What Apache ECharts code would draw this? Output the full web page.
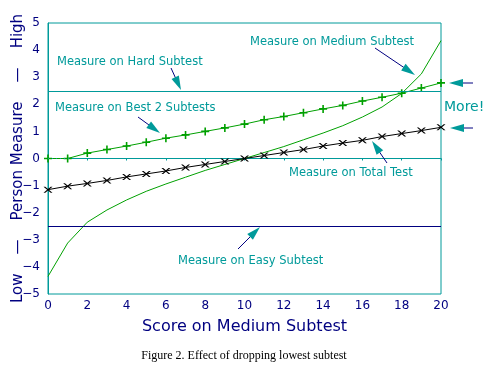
<!DOCTYPE html>
<html>
<head>
<meta charset="utf-8">
<script src="https://cdn.jsdelivr.net/npm/echarts@6/dist/echarts.min.js"></script>
<style>
html,body{margin:0;padding:0;background:#fff;}
#chart{width:488px;height:365px;}
</style>
</head>
<body>
<div id="chart"></div>
<script>
// ---- data ----
const scores = [0,1,2,3,4,5,6,7,8,9,10,11,12,13,14,15,16,17,18,19,20];
const best2Measure = [0,0,0.2,0.33,0.46,0.6,0.75,0.87,1.0,1.13,1.27,1.43,1.55,1.69,1.83,1.96,2.12,2.26,2.41,2.6,2.79];
const totalMeasure = [-1.15,-1.02,-0.92,-0.81,-0.68,-0.57,-0.46,-0.33,-0.22,-0.11,0,0.11,0.22,0.33,0.46,0.57,0.67,0.81,0.92,1.03,1.15];
const mediumMeasure = [-4.35,-3.12,-2.35,-1.9,-1.53,-1.21,-0.94,-0.69,-0.44,-0.22,0,0.22,0.44,0.69,0.94,1.21,1.53,1.9,2.4,3.12,4.35];
const hardMeasure = 2.5;
const easyMeasure = -2.5;
const zeroLine = 0;
const xTicks = [0,2,4,6,8,10,12,14,16,18,20];
const yTicks = [-5,-4,-3,-2,-1,0,1,2,3,4,5];

const TEAL = '#009a9a';
const NAVY = '#000080';
const GREEN = '#00a000';

const chart = echarts.init(document.getElementById('chart'), null, {renderer:'canvas'});

function arrow(x1,y1,x2,y2,len,w){
  const dx=x2-x1, dy=y2-y1, d=Math.hypot(dx,dy);
  const ux=dx/d, uy=dy/d;
  const bx=x2-ux*len, by=y2-uy*len;
  const px=-uy*w/2, py=ux*w/2;
  return [
    {type:'line', shape:{x1:x1,y1:y1,x2:bx+ux*2,y2:by+uy*2}, style:{stroke:NAVY,lineWidth:1}, z:100},
    {type:'polygon', shape:{points:[[x2,y2],[bx+px,by+py],[bx-px,by-py]]}, style:{fill:TEAL}, z:101}
  ];
}
function label(text,x,y,size){
  return {type:'text', x:x, y:y, style:{text:text, fill:TEAL, font:(size||11.5)+'px "DejaVu Sans"', textVerticalAlign:'middle'}, z:100};
}

const plusSym = 'path://M4,0h2v4h4v2h-4v4h-2v-4h-4v-2h4z';
const xSym = 'path://M0,0L2,0L5,3L8,0L10,0L6,4L10,8L8,8L5,5L2,8L0,8L4,4Z';

const option = {
  animation:false,
  title:{text:'Figure 2. Effect of dropping lowest subtest', left:'center', top:345,
    textStyle:{fontFamily:'"Liberation Serif"', fontSize:12, fontWeight:'normal', color:'#000'}},
  grid:{left:48, right:47, top:23, bottom:71, show:true, borderColor:TEAL, borderWidth:1,
    containLabel:false, outerBoundsMode:'none'},
  xAxis:{type:'value', min:0, max:20, interval:2,
    name:'Score on Medium Subtest', nameLocation:'middle', nameGap:25, nameMoveOverlap:false,
    nameTextStyle:{color:NAVY, fontSize:16, fontFamily:'"DejaVu Sans"'},
    axisLine:{lineStyle:{color:TEAL}}, axisTick:{show:true, length:2, lineStyle:{color:TEAL}},
    splitLine:{show:false},
    axisLabel:{color:NAVY, fontSize:12, fontFamily:'"DejaVu Sans"', margin:6, formatter:v=>xTicks.includes(v)?String(v):''}},
  yAxis:{type:'value', min:-5, max:5, interval:1,
    name:'Low    —    Person Measure    —    High', nameLocation:'middle', nameGap:22, nameRotate:90,
    nameMoveOverlap:false,
    nameTextStyle:{color:NAVY, fontSize:15, fontFamily:'"DejaVu Sans"'},
    axisLine:{show:true, lineStyle:{color:TEAL}}, axisTick:{show:false},
    splitLine:{show:false},
    axisLabel:{color:NAVY, fontSize:12, fontFamily:'"DejaVu Sans"', margin:8,
      formatter:v=>yTicks.includes(v)?String(v).replace('-','\u2212'):''}},
  series:[
    {type:'line', data:scores.map((s,i)=>[s,mediumMeasure[i]]), showSymbol:false, symbol:'none',
      lineStyle:{color:GREEN, width:1}, z:3,
      markLine:{silent:true, symbol:'none', label:{show:false},
        data:[
          {yAxis:hardMeasure, lineStyle:{color:TEAL, width:1, type:'solid'}},
          {yAxis:easyMeasure, lineStyle:{color:NAVY, width:1, type:'solid'}},
          {yAxis:zeroLine, lineStyle:{color:TEAL, width:1, type:[1,3]}}
        ]}},
    {type:'line', data:scores.map((s,i)=>[s,best2Measure[i]]), symbol:plusSym, symbolSize:[8,8],
      itemStyle:{color:GREEN}, lineStyle:{color:GREEN, width:1}, z:4},
    {type:'line', data:scores.map((s,i)=>[s,totalMeasure[i]]), symbol:xSym, symbolSize:[9,6],
      itemStyle:{color:'#000'}, lineStyle:{color:'#000', width:1}, z:5}
  ],
  graphic:[
    label('Measure on Hard Subtest',57,62),
    label('Measure on Best 2 Subtests',55,108),
    label('Measure on Medium Subtest',250,42),
    label('Measure on Total Test',289,173),
    label('Measure on Easy Subtest',178,261),
    label('More!',444,107,14),
    ...arrow(171,68,181,90,14,8),
    ...arrow(138,117,160,133,14,8),
    ...arrow(375,48,415,75,14,8),
    ...arrow(387,163,372,141,14,8),
    ...arrow(238,249,260,227,14,8),
    ...arrow(473,83,449,83,14,8),
    ...arrow(473,128,450,128,14,8)
  ]
};
chart.setOption(option);
</script>
</body>
</html>
